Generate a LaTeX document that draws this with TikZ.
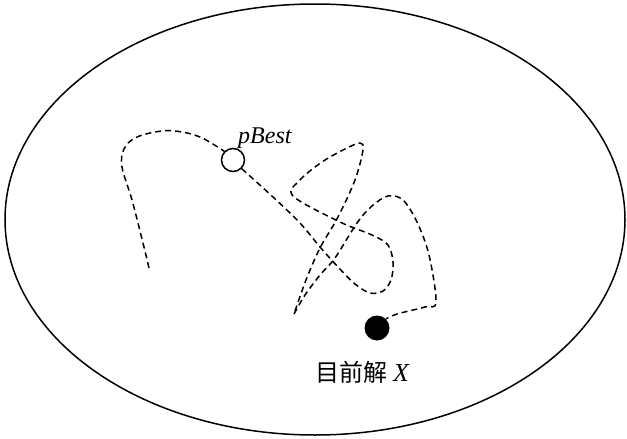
\documentclass[tikz,border=0pt]{standalone}
\usepackage{fontspec}
\usetikzlibrary{shapes.geometric}
\setmainfont{Liberation Serif}
\newfontfamily\cjk{Noto Sans CJK SC}
\begin{document}
\begin{tikzpicture}[x=1pt,y=-1pt,
  walk/.style={dashed, dash pattern=on 6pt off 4pt, line width=1.5pt},
  openpt/.style={circle, draw, line width=1.5pt, minimum size=23pt, inner sep=0pt},
  curpt/.style={circle, fill=black, minimum size=25pt, inner sep=0pt},
  lbl/.style={inner sep=0pt, font=\fontsize{24}{24}\selectfont}]
\useasboundingbox (0,0) rectangle (627,439);
\node[draw, ellipse, line width=1.5pt, minimum width=620pt, minimum height=431pt, inner sep=0pt] (space) at (315,219.5) {};
\node[openpt] (pb) at (233,160) {};
\node[curpt] (cur) at (377,328) {};
\node[lbl, anchor=base west] (pbl) at (238,143) {\itshape pBest};
\node[inner sep=0pt, anchor=base west, font=\fontsize{24}{24}\selectfont] (curl) at (315,381) {{\cjk 目前解} {\fontsize{26}{26}\selectfont\itshape X}};
\coordinate (s) at (149,268);
\draw[walk] plot[smooth, tension=0.6] coordinates {(s) (143,243) (132,200) (122,167) (124,149) (135,138) (155,132) (175,131) (200,137) (pb.north west)};
\draw[walk] plot[smooth, tension=0.55] coordinates {(pb.south east) (273,197) (300,223) (320,247) (338,267) (355,284) (370,293) (383,291) (391,280) (393,262) (388,245) (372,235) (340,222) (293,196) (300,180) (322,162) (345,149) (360,143) (363,150) (355,180) (338,217) (320,248) (306,280) (294,314)};
\draw[walk] plot[smooth, tension=0.55] coordinates {(294,314) (305,295) (320,275) (335,258) (357,223) (372,206) (388,196) (403,200) (417,222) (429,255) (436,302) (425,307) (397,314) (cur.north east)};
\end{tikzpicture}
\end{document}
